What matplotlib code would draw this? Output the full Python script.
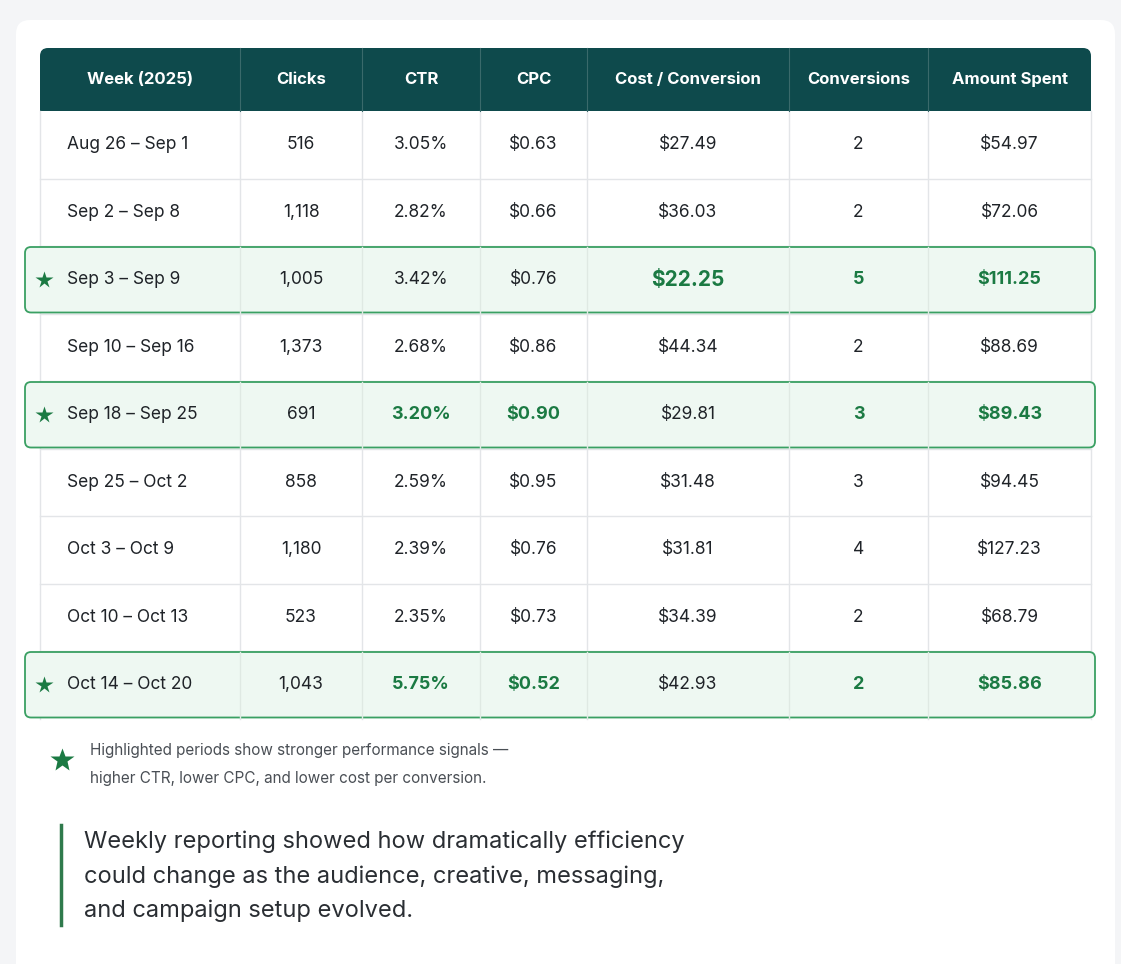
import matplotlib.pyplot as plt
from matplotlib.patches import FancyBboxPatch, Rectangle

plt.rcParams['font.family'] = ['Inter', 'DejaVu Sans']

# ==========================================
# Data
# ==========================================
headers = ["Week (2025)", "Clicks", "CTR", "CPC", "Cost / Conversion", "Conversions", "Amount Spent"]
weeks = ["Aug 26 – Sep 1", "Sep 2 – Sep 8", "Sep 3 – Sep 9", "Sep 10 – Sep 16", "Sep 18 – Sep 25",
         "Sep 25 – Oct 2", "Oct 3 – Oct 9", "Oct 10 – Oct 13", "Oct 14 – Oct 20"]
clicks = ["516", "1,118", "1,005", "1,373", "691", "858", "1,180", "523", "1,043"]
ctr = ["3.05%", "2.82%", "3.42%", "2.68%", "3.20%", "2.59%", "2.39%", "2.35%", "5.75%"]
cpc = ["$0.63", "$0.66", "$0.76", "$0.86", "$0.90", "$0.95", "$0.76", "$0.73", "$0.52"]
cost_conv = ["$27.49", "$36.03", "$22.25", "$44.34", "$29.81", "$31.48", "$31.81", "$34.39", "$42.93"]
conversions = ["2", "2", "5", "2", "3", "3", "4", "2", "2"]
amount = ["$54.97", "$72.06", "$111.25", "$88.69", "$89.43", "$94.45", "$127.23", "$68.79", "$85.86"]
# highlighted rows -> columns shown in bold green
highlights = {2: [4, 5, 6], 4: [2, 3, 5, 6], 8: [2, 3, 5, 6]}

note = ["Highlighted periods show stronger performance signals —",
        "higher CTR, lower CPC, and lower cost per conversion."]
quote = ["Weekly reporting showed how dramatically efficiency",
         "could change as the audience, creative, messaging,",
         "and campaign setup evolved."]

# ==========================================
# Layout / style
# ==========================================
W, H = 1121, 964
COL_EDGES = [40, 240, 362, 480, 587, 789, 928, 1091]
HEAD_TOP, HEAD_BOT = 48, 111
ROW_H = 67.5
DARK = "#0e4a4c"
GREEN = "#1b7a43"
TEXT = "#1f2328"
GRID = "#e3e5e8"

fig = plt.figure(figsize=(W / 100, H / 100), dpi=100, facecolor="#f4f5f7")
ax = fig.add_axes([0, 0, 1, 1])
ax.set_xlim(0, W)
ax.set_ylim(H, 0)
ax.axis("off")

ax.add_patch(FancyBboxPatch((16, 20), 1099, 1000, boxstyle="round,pad=0,rounding_size=14",
                            fc="white", ec="none"))

# header
ax.add_patch(FancyBboxPatch((COL_EDGES[0], HEAD_TOP), COL_EDGES[-1] - COL_EDGES[0], HEAD_BOT - HEAD_TOP,
                            boxstyle="round,pad=0,rounding_size=8", fc=DARK, ec="none"))
ax.add_patch(Rectangle((COL_EDGES[0], HEAD_TOP + 20), COL_EDGES[-1] - COL_EDGES[0], HEAD_BOT - HEAD_TOP - 20,
                       fc=DARK, ec="none"))
for i in range(1, len(COL_EDGES) - 1):
    ax.plot([COL_EDGES[i]] * 2, [HEAD_TOP, HEAD_BOT], color="#3a6a6b", lw=0.8)
centers = [(COL_EDGES[i] + COL_EDGES[i + 1]) / 2 for i in range(len(headers))]
for c, h in zip(centers, headers):
    ax.text(c, (HEAD_TOP + HEAD_BOT) / 2, h, color="white", fontsize=12, fontweight="bold",
            ha="center", va="center")

n = len(weeks)
table_bot = HEAD_BOT + n * ROW_H
# grid
for i in range(len(COL_EDGES)):
    ax.plot([COL_EDGES[i]] * 2, [HEAD_BOT, table_bot], color=GRID, lw=1, zorder=1)
for r in range(1, n):
    y = HEAD_BOT + r * ROW_H
    ax.plot([COL_EDGES[0], COL_EDGES[-1]], [y, y], color=GRID, lw=1, zorder=1)

# highlighted rows
for r in highlights:
    y0 = HEAD_BOT + r * ROW_H
    ax.add_patch(FancyBboxPatch((25, y0 + 1), 1070, ROW_H - 2, boxstyle="round,pad=0,rounding_size=6",
                                fc="#eef8f2", ec="#3aa063", lw=1.3, zorder=2))
    for x in COL_EDGES[1:-1]:
        ax.plot([x, x], [y0 + 1, y0 + ROW_H - 1], color="#dfe9e3", lw=1, zorder=3)
    ax.plot(44, y0 + ROW_H / 2, marker="*", ms=13, color=GREEN, mec="none", zorder=4)

cols = [weeks, clicks, ctr, cpc, cost_conv, conversions, amount]
for r in range(n):
    yc = HEAD_BOT + r * ROW_H + ROW_H / 2
    for ci, col in enumerate(cols):
        bold = ci in highlights.get(r, [])
        if ci == 0:
            ax.text(67, yc, col[r], fontsize=12.5, color=TEXT, ha="left", va="center", zorder=5)
        else:
            ax.text(centers[ci], yc, col[r], fontsize=15 if (bold and ci == 4) else (13 if bold else 12.5),
                    color=GREEN if bold else TEXT, fontweight="bold" if bold else "normal",
                    ha="center", va="center", zorder=5)

# footnote
ax.plot(62, 760, marker="*", ms=18, color=GREEN, mec="none")
for i, line in enumerate(note):
    ax.text(90, 750 + i * 28, line, fontsize=11, color="#4a4f55", ha="left", va="center")

# quote
ax.plot([61, 61], [825, 925], color="#2f7a4c", lw=2.5)
for i, line in enumerate(quote):
    ax.text(84, 842 + i * 34.5, line, fontsize=17, color="#2a2e33", ha="left", va="center")

fig.savefig("out.png", dpi=100, facecolor=fig.get_facecolor())
